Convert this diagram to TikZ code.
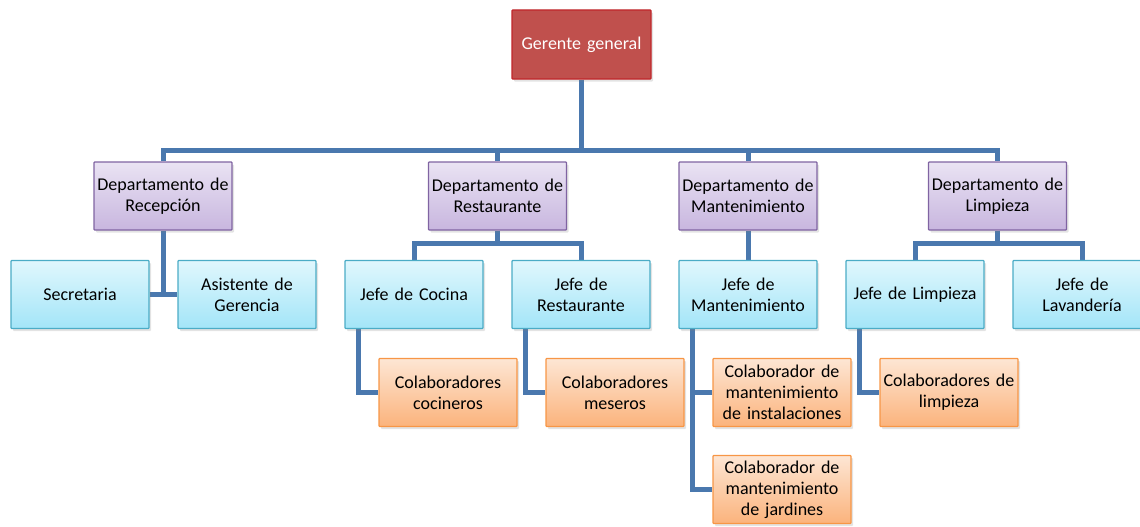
\documentclass[tikz,border=0pt]{standalone}
\usepackage{fontspec}
\setmainfont{Carlito}
\usetikzlibrary{calc,backgrounds,shadows}
\definecolor{connc}{HTML}{4A78AE}
\definecolor{redf}{HTML}{C0504D}
\definecolor{redb}{HTML}{C0262A}
\definecolor{ppt}{HTML}{EAE3F3}
\definecolor{ppb}{HTML}{C8B6DF}
\definecolor{ppd}{HTML}{8064A2}
\definecolor{cyt}{HTML}{E0F7FD}
\definecolor{cyb}{HTML}{A3E5F8}
\definecolor{cyd}{HTML}{4BACC6}
\definecolor{ort}{HTML}{FDE6D4}
\definecolor{orb}{HTML}{FBB37C}
\definecolor{ord}{HTML}{F79646}
\tikzset{
  box/.style={draw, line width=1.3pt, rounded corners=0.8pt, minimum width=138pt, minimum height=68pt,
    text width=134pt, align=center, inner sep=0pt, font=\fontsize{18}{21}\selectfont, text=black,
    drop shadow={shadow xshift=2pt, shadow yshift=-2.5pt, opacity=0.22}},
  topbox/.style={box, fill=redf, draw=redb, text=white, minimum width=139pt, minimum height=69pt},
  dept/.style={box, draw=ppd, top color=ppt, bottom color=ppb},
  jefe/.style={box, draw=cyd, top color=cyt, bottom color=cyb},
  colab/.style={box, draw=ord, top color=ort, bottom color=orb},
  conn/.style={draw=connc, line width=5pt, line join=miter}
}
\begin{document}
\begin{tikzpicture}[x=1pt,y=-1pt]
\useasboundingbox (0,0) rectangle (1140,527);
\node[topbox] (gg) at (581.5,44.5) {Gerente general};
\node[dept] (d1) at (163,196) {Departamento de\\Recepción};
\node[dept] (d2) at (497.5,196) {Departamento de\\Restaurante};
\node[dept] (d3) at (748,196) {Departamento de\\Mantenimiento};
\node[dept] (d4) at (997.5,196) {Departamento de\\Limpieza};
\node[jefe] (sec) at (80,294.5) {Secretaria};
\node[jefe] (asi) at (247,294.5) {Asistente de\\Gerencia};
\node[jefe] (jc) at (414,294.5) {Jefe de Cocina};
\node[jefe] (jr) at (581,294.5) {Jefe de\\Restaurante};
\node[jefe] (jm) at (748,294.5) {Jefe de\\Mantenimiento};
\node[jefe] (jl) at (915,294.5) {Jefe de Limpieza};
\node[jefe] (jv) at (1082,294.5) {Jefe de\\Lavandería};
\node[colab] (cc) at (448,392.5) {Colaboradores\\cocineros};
\node[colab] (cm) at (615,392.5) {Colaboradores\\meseros};
\node[colab] (ci) at (782,392.5) {Colaborador de\\mantenimiento\\de instalaciones};
\node[colab] (cl) at (949,392.5) {Colaboradores de\\limpieza};
\node[colab] (cj) at (782,489.5) {Colaborador de\\mantenimiento\\de jardines};
\begin{pgfonlayer}{background}
\coordinate (bar) at (0,150);
\coordinate (bar2) at (0,243);
\draw[conn] (gg.south) -- (gg.south |- bar);
\draw[conn] (d1.north) -- (d1.north |- bar) -- (d4.north |- bar) -- (d4.north);
\draw[conn] (d2.north) -- (d2.north |- bar);
\draw[conn] (d3.north) -- (d3.north |- bar);
\draw[conn] (d1.south) -- (d1.south |- sec.east);
\draw[conn] (sec.east) -- (asi.west);
\draw[conn] (d2.south) -- (d2.south |- bar2);
\draw[conn] (jc.north) -- (jc.north |- bar2) -- (jr.north |- bar2) -- (jr.north);
\draw[conn] (d3.south) -- (jm.north);
\draw[conn] (d4.south) -- (d4.south |- bar2);
\draw[conn] (jl.north) -- (jl.north |- bar2) -- (jv.north |- bar2) -- (jv.north);
\coordinate (jcx) at ($(jc.south west)+(14,0)$);
\coordinate (jrx) at ($(jr.south west)+(14,0)$);
\coordinate (jmx) at ($(jm.south west)+(14,0)$);
\coordinate (jlx) at ($(jl.south west)+(14,0)$);
\draw[conn] (jcx) |- (cc.west);
\draw[conn] (jrx) |- (cm.west);
\draw[conn] (jmx) |- (cj.west);
\draw[conn] (ci.west) -- (ci.west -| jmx);
\draw[conn] (jlx) |- (cl.west);
\end{pgfonlayer}
\end{tikzpicture}
\end{document}
